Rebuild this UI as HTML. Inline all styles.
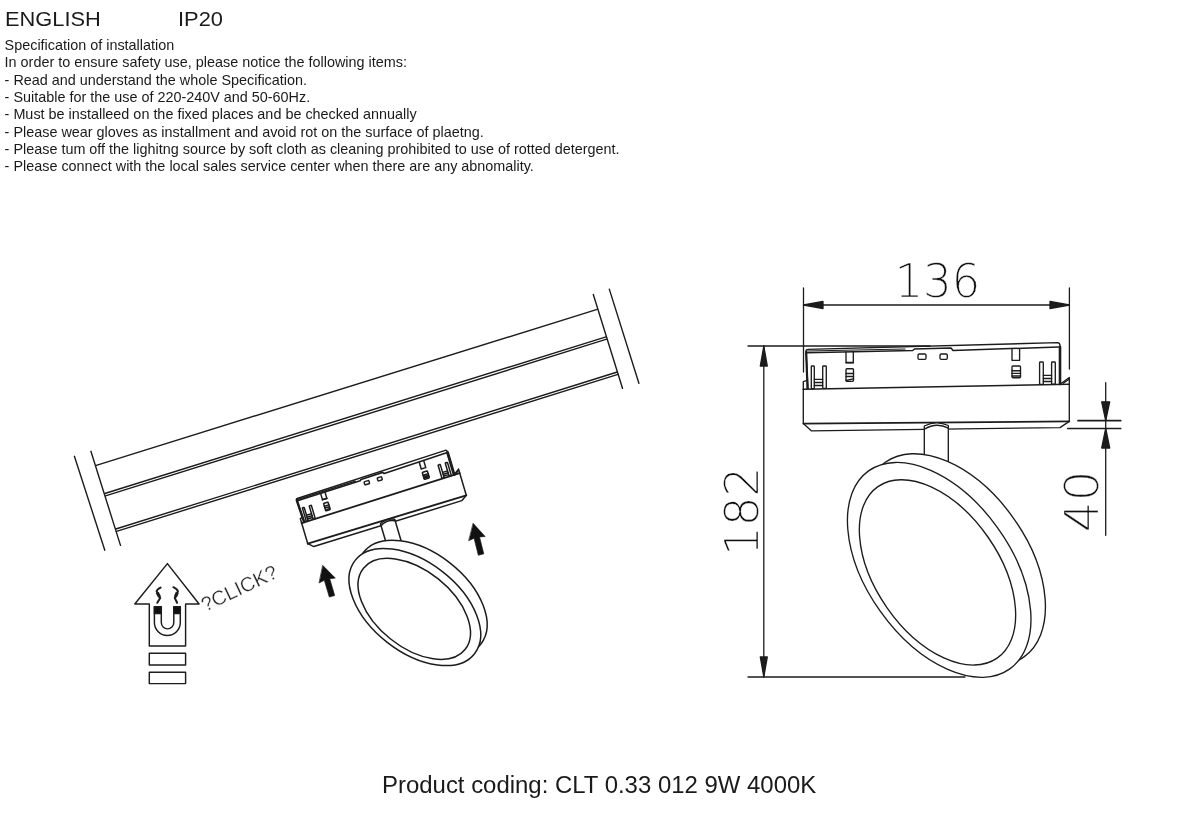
<!DOCTYPE html>
<html lang="en">
<head>
<meta charset="utf-8">
<title>Specification of installation</title>
<style>
html,body{margin:0;padding:0;background:#fff;}
body{width:1200px;height:828px;position:relative;overflow:hidden;font-family:"Liberation Sans",sans-serif;color:#1a1a1a;}
.t{position:absolute;white-space:nowrap;transform-origin:0 0;line-height:1;}
.h{font-size:20.9px;top:8.7px;transform:scaleX(1.045);}
.b{font-size:14.4px;left:4.6px;}
#page{position:absolute;left:0;top:0;width:1200px;height:828px;filter:grayscale(1);}
svg{position:absolute;left:0;top:0;}
svg text{font-family:"Liberation Sans",sans-serif;}
.dim text{font-family:"DejaVu Sans Light","DejaVu Sans","Liberation Sans",sans-serif;font-weight:200;font-size:46.8px;fill:#111;stroke:#fff;stroke-width:0.35px;paint-order:fill stroke;text-anchor:middle;}
.clk{font-size:20.2px;fill:#262626;stroke:#fff;stroke-width:0.3px;paint-order:fill stroke;}
</style>
</head>
<body>
<div id="page">
<div class="t h" id="h1" style="left:5.4px;">ENGLISH</div>
<div class="t h" id="h2" style="left:177.8px;">IP20</div>
<div class="t b" id="l1" style="top:38px;">Specification of installation</div>
<div class="t b" id="l2" style="top:55.3px;">In order to ensure safety use, please notice the following items:</div>
<div class="t b" id="l3" style="top:72.6px;">- Read and understand the whole Specification.</div>
<div class="t b" id="l4" style="top:89.9px;">- Suitable for the use of 220-240V and 50-60Hz.</div>
<div class="t b" id="l5" style="top:107.2px;">- Must be installeed on the fixed places and be checked annually</div>
<div class="t b" id="l6" style="top:124.5px;">- Please wear gloves as installment and avoid rot on the surface of plaetng.</div>
<div class="t b" id="l7" style="top:141.8px;">- Please tum off the lighitng source by soft cloth as cleaning prohibited to use of rotted detergent.</div>
<div class="t b" id="l8" style="top:159.1px;">- Please connect with the local sales service center when there are any abnomality.</div>
<div class="t" id="pc" style="left:382px;top:772.6px;font-size:23.95px;">Product coding: CLT 0.33 012 9W 4000K</div>

<svg width="1200" height="828" viewBox="0 0 1200 828" fill="none" stroke="#1c1c1c" stroke-linecap="round" stroke-linejoin="round">
<defs>
<g id="lamp">
  <!-- lower box -->
  <path d="M803.3,389.3 L803.3,423.6 L811.3,430.8 L1060,427.6 L1069.3,421.4 L1069.3,377.5 L1060,384.2" fill="#fff"/>
  <path d="M803.3,423.6 L1069.3,421.4" style="stroke-width:calc(var(--sw)*1.26)"/>
  <path d="M803.3,389.3 L1069.3,384.2" style="stroke-width:calc(var(--sw)*1.19)"/>
  <path d="M1063.3,383.3 L1068.7,379.5"/>
  <path d="M806.3,380.7 L803.3,381.6 L803.3,389.3"/>
  <!-- stem -->
  <path d="M924.3,470 L924.3,426 Q936.3,420 948.3,425.5 L948.3,472" fill="#fff"/>
  <path d="M924.3,429.3 Q936.3,421.8 948.3,428.1"/>
  <!-- ring -->
  <ellipse cx="954.6" cy="559.6" rx="119.5" ry="72" transform="rotate(54.5 954.6 559.6)" fill="#fff"/>
  <ellipse cx="939.2" cy="569.9" rx="121.6" ry="72" transform="rotate(54.5 939.2 569.9)" fill="#fff"/>
  <ellipse cx="937.5" cy="572.4" rx="104.4" ry="61.6" transform="rotate(55.2 937.5 572.4)"/>
  <!-- upper module -->
  <path d="M808,388.5 L806,351 Q806,349.3 807.6,349.3 L1057.5,342.7 Q1060,342.8 1060,346 L1060,384"/>
  <path d="M807.5,388.5 L806.2,352" style="stroke-width:calc(var(--sw)*1.63)"/>
  <path d="M1060,347 L1060,384" style="stroke-width:calc(var(--sw)*1.93)"/>
  <path d="M807,352.7 L912.7,350.5 L914.5,349 L951,348 L953,350.5 L1058.5,347" style="stroke-width:calc(var(--sw)*1.11)"/>
  <path d="M807,351 L905,349" style="stroke-width:calc(var(--sw)*0.89)"/>
  <!-- notches -->
  <path d="M846,352 L846,362.5 L853.3,362.5 L853.3,352"/>
  <path d="M846,362.7 L853.3,362.7" style="stroke-width:calc(var(--sw)*1.19)"/>
  <path d="M1012,349.5 L1012,360.3 L1019.6,360.3 L1019.6,349.5"/>
  <!-- small rects -->
  <rect x="846" y="368.7" width="7.5" height="12.6" rx="1"/>
  <path d="M846,373.5 L853.5,373.5 M846,376.5 L853.5,376.5 M846,380.5 L853.5,378.8"/>
  <rect x="1012" y="366" width="8.5" height="11.7" rx="1"/>
  <path d="M1012,370.7 L1020.5,370.7 M1012,373.4 L1020.5,373.4 M1012,376 L1020.5,376"/>
  <rect x="918" y="354" width="8" height="5.3" rx="1.2"/>
  <rect x="940" y="354" width="7.3" height="5.3" rx="1.2"/>
  <!-- pins -->
  <rect x="811.3" y="366" width="3" height="22.7" rx="0.8"/>
  <rect x="822.7" y="366" width="3.6" height="22.4" rx="0.8"/>
  <path d="M814.3,379.3 L822.7,379.3 M814.3,382.5 L822.7,382.5 M814.3,385.5 L822.7,385.5"/>
  <rect x="1039.6" y="362" width="3.7" height="22.4" rx="0.8"/>
  <rect x="1051.6" y="362" width="3.7" height="22.2" rx="0.8"/>
  <path d="M1043.3,375.3 L1051.6,375.3 M1043.3,378.5 L1051.6,378.5 M1043.3,381.5 L1051.6,381.5"/>
</g>
<path id="barrow" d="M0,0 L8.3,15.5 L2.8,14.5 L2.8,32 L-2.8,32 L-2.8,14.5 L-8.3,15.5 Z"/>
</defs>

<!-- ===== right figure ===== -->
<g style="--sw:1.35px;stroke-width:var(--sw)">
  <use href="#lamp"/>
</g>
<g stroke-width="1.3">
  <!-- 136 dimension -->
  <path d="M803.5,288 L803.5,372 M1069.4,288 L1069.4,369"/>
  <path d="M803.5,305 L1069.4,305"/>
  <path d="M803.5,305 L823,301.5 L823,308.5 Z M1069.4,305 L1050,301.5 L1050,308.5 Z" fill="#1c1c1c"/>
  <!-- 182 dimension -->
  <path d="M748,346 L930,346 M748,677 L965,677"/>
  <path d="M763.8,346 L763.8,677"/>
  <path d="M763.8,346 L760.3,366 L767.3,366 Z M763.8,677 L760.3,657 L767.3,657 Z" fill="#1c1c1c"/>
  <!-- 40 dimension -->
  <path d="M1078,420.7 L1120.7,420.7 M1067.7,428.5 L1120.7,428.5" stroke-width="1.7"/>
  <path d="M1105.7,382.7 L1105.7,535.3"/>
  <path d="M1105.7,420.7 L1101.7,401.8 L1109.7,401.8 Z M1105.7,428.5 L1101.7,448 L1109.7,448 Z" fill="#1c1c1c"/>
</g>
<g class="dim">
  <text id="d136" transform="translate(937.5 296.8) scale(0.955 1)">136</text>
  <text id="d182" transform="translate(757.6 511.3) rotate(-90) scale(1.0 1)">182</text>
  <text id="d40" transform="translate(1097.6 501.3) rotate(-90) scale(1.03 1)">40</text>
</g>

<!-- ===== left figure ===== -->
<g stroke-width="1.4">
  <path d="M74.4,456.3 L104.8,550.2 M90.9,451.3 L120.5,545.4 M593.3,294.5 L622.5,388.3 M609.3,289.1 L638.9,383.3"/>
  <path d="M96.3,465.3 L597.2,309.4"/>
  <path d="M104.8,493.5 L606,336.8 M105.5,495.9 L606.7,339.2"/>
  <path d="M115.8,529 L617.3,372 M116.5,531.4 L618,374.4"/>
</g>
<g transform="translate(301.7 523.2) rotate(-16.5) scale(0.623) translate(-803.3 -389.3)" style="--sw:2.4px;stroke-width:var(--sw)">
  <use href="#lamp"/>
</g>
<g fill="#111" stroke="#111" stroke-width="0.6">
  <use href="#barrow" transform="translate(322.9 565.6) rotate(-16.5)"/>
  <use href="#barrow" transform="translate(473.3 523.5) rotate(-14)"/>
</g>
<!-- magnet arrow icon -->
<g stroke-width="1.45">
  <path d="M167.4,563.6 L199.1,604 L185.6,604 L185.6,646 L149.3,646 L149.3,604 L134.8,604 Z"/>
  <rect x="149.3" y="653.2" width="36.3" height="11.8"/>
  <rect x="149.3" y="672.2" width="36.3" height="11.4"/>
  <path d="M154.4,606.7 L154.4,622.6 A12.95,12.95 0 0 0 180.3,622.6 L180.3,606.7 L173.8,606.7 L173.8,622.6 A6.25,6.25 0 0 1 161.3,622.6 L161.3,606.7 Z"/>
  <path d="M154.4,606.7 H161.3 V613.4 H154.4 Z M173.8,606.7 H180.3 V613.4 H173.8 Z" fill="#111"/>
  <path d="M160.6,587.6 Q156.8,589.5 156.6,591.4 L160.2,598 L157.3,602.8 M173.4,587.2 Q177.4,589.3 177.9,591.3 L174.8,598 L177.1,602.8" stroke-width="2" stroke-linejoin="miter"/>
  <path d="M157.2,592.6 L159.6,597 M177.3,592.5 L175.4,596.9" stroke-width="3.2" stroke-linecap="butt"/>
</g>
<text id="click" transform="translate(205.2 612) rotate(-25.4)" class="clk">?CLICK?</text>
</svg>
</div>
</body>
</html>
